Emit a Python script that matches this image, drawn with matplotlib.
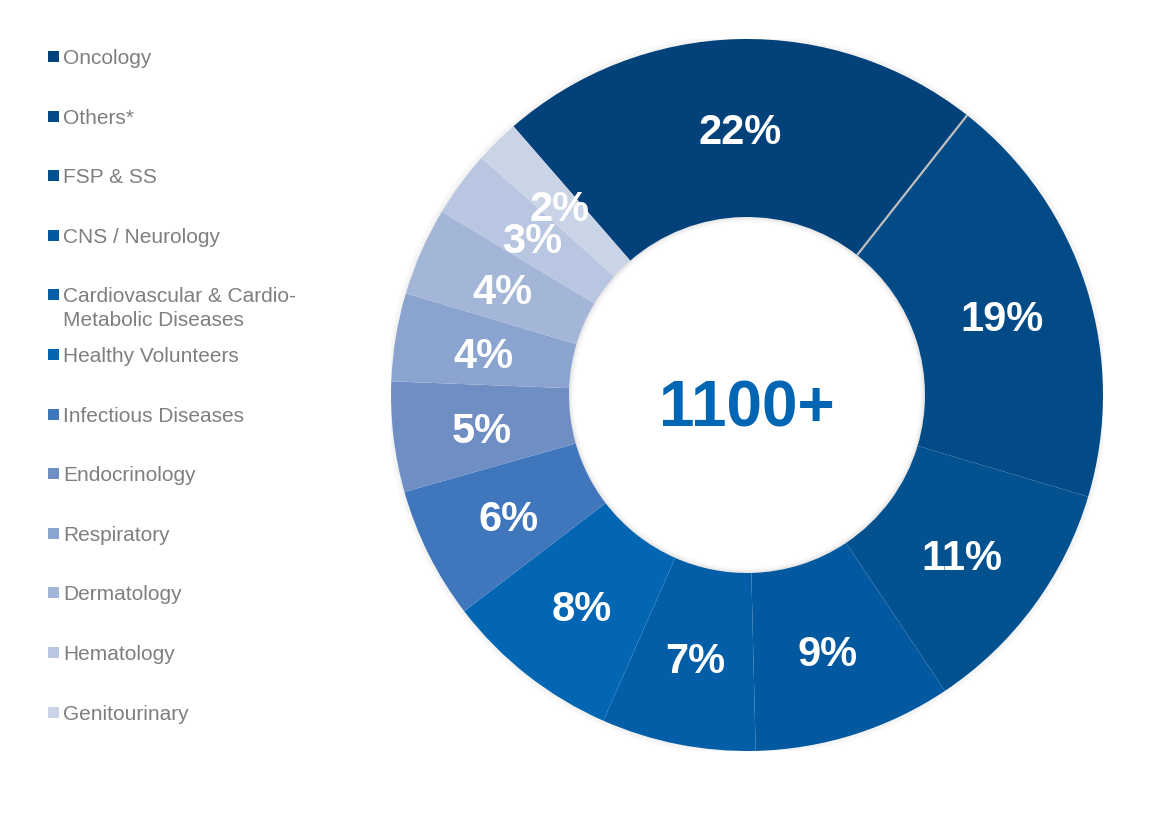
import numpy as np
import matplotlib
matplotlib.use("Agg")
import matplotlib.pyplot as plt
from matplotlib.patches import Rectangle, Circle, Wedge

plt.rcParams['font.family'] = ['Liberation Sans', 'DejaVu Sans']

# Therapeutic-area split of studies
categories = [
    "Oncology", "Others*", "FSP & SS", "CNS / Neurology",
    "Cardiovascular & Cardio-\nMetabolic Diseases", "Healthy Volunteers",
    "Infectious Diseases", "Endocrinology", "Respiratory", "Dermatology",
    "Hematology", "Genitourinary",
]
shares = [22, 19, 11, 9, 7, 8, 6, 5, 4, 4, 3, 2]
colors = [
    "#024179", "#034B87", "#03518F", "#03599F", "#035EA7", "#0266B3",
    "#3F76BC", "#6F8EC4", "#8BA4CF", "#A4B6D8", "#B8C6E1", "#CAD4E7",
]
center_label = "1100+"

W, H, DPI = 1171, 825, 100
fig = plt.figure(figsize=(W / DPI, H / DPI), dpi=DPI)
fig.patch.set_facecolor("white")

# Donut axes: centre (747, 395) px, outer radius 356 px
cx, cy, R = 747, 395, 356
ax = fig.add_axes([(cx - R) / W, (H - cy - R) / H, 2 * R / W, 2 * R / H])
start = 131.0
ring = 0.5

# faint soft shadow just outside the ring and just inside the hole
for k in range(4):
    ax.add_patch(Wedge((0, 0), 1.0 + 0.004 * (k + 1), 0, 360, width=0.004,
                       facecolor="#000000", alpha=0.05 - 0.011 * k,
                       edgecolor="none", zorder=0))

wedges, _, autotexts = ax.pie(
    shares, colors=colors, startangle=start, counterclock=False,
    radius=1.0, wedgeprops=dict(width=ring, linewidth=0),
    autopct=lambda p: f"{p:.0f}%", pctdistance=0.75,
    textprops=dict(color="white", fontsize=30, fontweight="bold"),
)
for t in autotexts:
    x, y = t.get_position()
    t.set_position((x, y - 0.015))
    t.set_zorder(5)

for k in range(4):
    ax.add_patch(Wedge((0, 0), 1 - ring, 0, 360, width=0.004 * (k + 1),
                       facecolor="#000000", alpha=0.035 - 0.008 * k,
                       edgecolor="none", zorder=3))

ax.set_xlim(-1, 1)
ax.set_ylim(-1, 1)
ax.set_aspect("equal")
ax.axis("off")

# light separator between the first two segments
theta = np.deg2rad(start - shares[0] / sum(shares) * 360)
ax.plot([(1 - ring) * np.cos(theta), np.cos(theta)],
        [(1 - ring) * np.sin(theta), np.sin(theta)],
        color="#BFBFBF", lw=1.6, solid_capstyle="butt", zorder=4)

ax.text(0, -0.04, center_label, ha="center", va="center",
        fontsize=46, fontweight="bold", color="#0066B3", zorder=5)

# Legend drawn as a column of square markers and grey labels
row0, step = 56.5, 59.6
sq = 11
for i, (lab, col) in enumerate(zip(categories, colors)):
    yc = row0 + i * step
    fig.patches.append(Rectangle((48 / W, (H - yc - sq / 2) / H), sq / W, sq / H,
                                 transform=fig.transFigure, facecolor=col,
                                 edgecolor="none"))
    for j, line in enumerate(lab.split("\n")):
        fig.text(63 / W, (H - yc - j * 24) / H, line, ha="left",
                 va="center_baseline", fontsize=15, color="#7F7F7F")

fig.savefig("out.png", dpi=DPI, facecolor="white")
